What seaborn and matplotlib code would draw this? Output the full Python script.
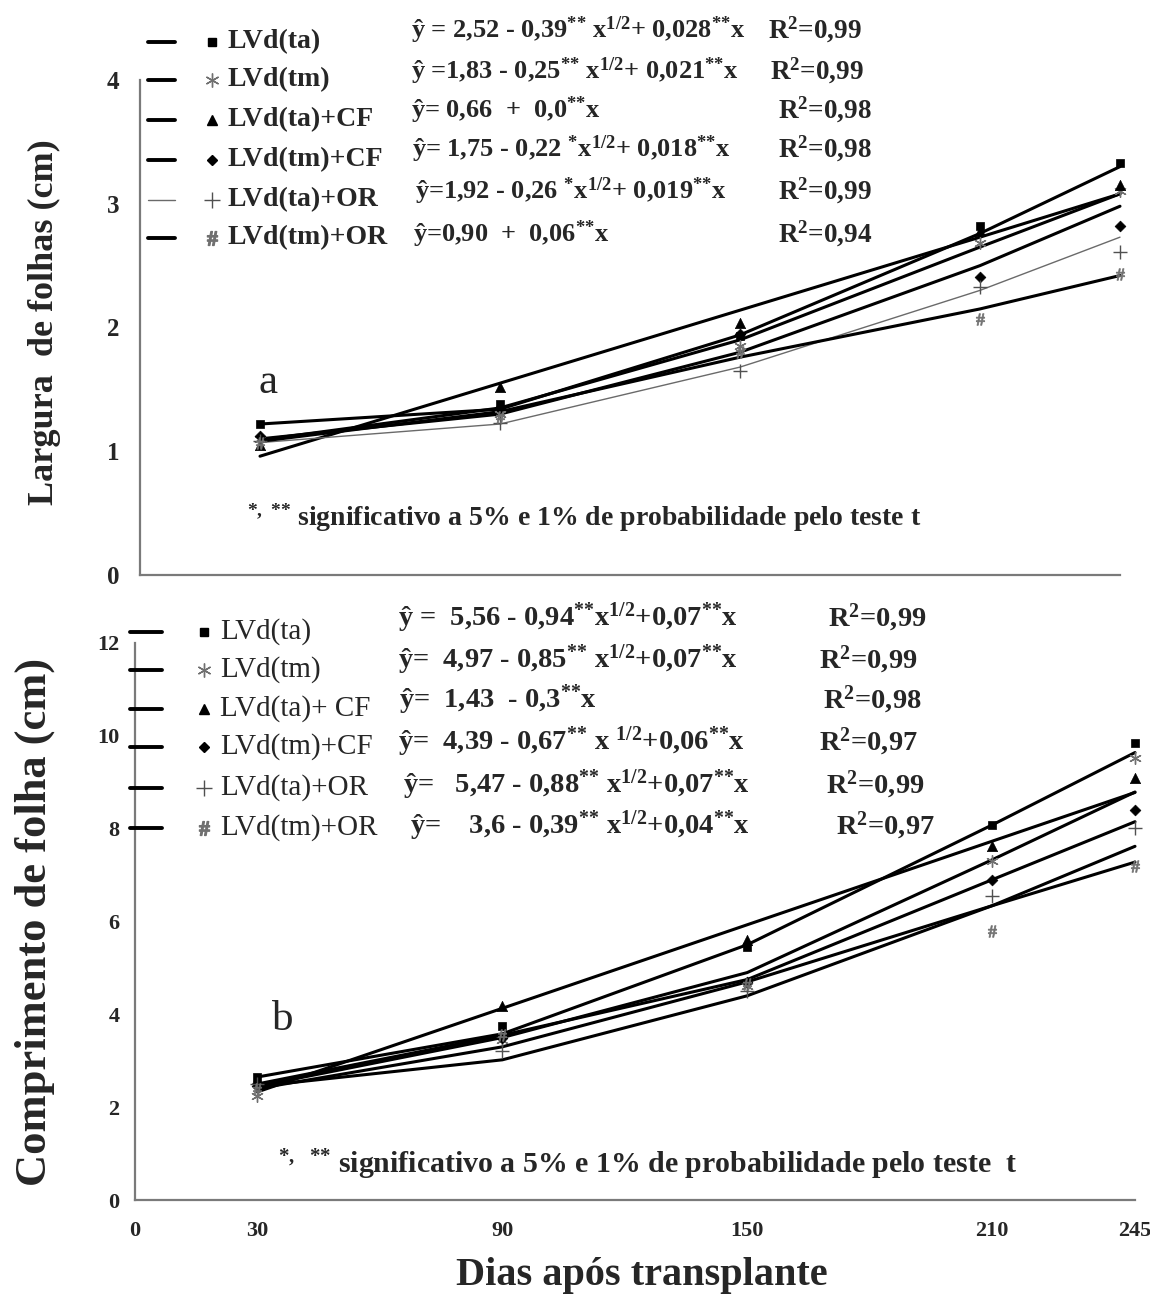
import matplotlib
matplotlib.use("Agg")
import matplotlib.pyplot as plt
import seaborn as sns
import pandas as pd
from matplotlib.lines import Line2D

# ---------------- data ----------------
days = [30, 90, 150, 210, 245]
x_ticks = [0, 30, 90, 150, 210, 245]
series_a = ["LVd(ta)", "LVd(tm)", "LVd(ta)+CF", "LVd(tm)+CF", "LVd(ta)+OR", "LVd(tm)+OR"]
series_b = ["LVd(ta)", "LVd(tm)", "LVd(ta)+ CF", "LVd(tm)+CF", "LVd(ta)+OR", "LVd(tm)+OR"]

# (a) Largura de folhas - observed
larg_obs_ta = [1.22, 1.38, 1.93, 2.82, 3.33]
larg_obs_tm = [1.10, 1.30, 1.85, 2.68, 3.10]
larg_obs_taCF = [1.05, 1.52, 2.04, 2.78, 3.15]
larg_obs_tmCF = [1.12, 1.35, 1.95, 2.41, 2.82]
larg_obs_taOR = [1.08, 1.23, 1.65, 2.33, 2.61]
larg_obs_tmOR = [1.07, 1.28, 1.80, 2.07, 2.43]
# (a) Largura de folhas - fitted
larg_fit_ta = [1.22, 1.34, 1.94, 2.76, 3.30]
larg_fit_tm = [1.09, 1.35, 1.90, 2.65, 3.08]
larg_fit_taCF = [0.96, 1.55, 2.14, 2.73, 3.08]
larg_fit_tmCF = [1.10, 1.30, 1.80, 2.50, 2.98]
larg_fit_taOR = [1.07, 1.22, 1.68, 2.30, 2.73]
larg_fit_tmOR = [1.08, 1.32, 1.76, 2.15, 2.42]

# (b) Comprimento de folha - observed
comp_obs_ta = [2.65, 3.75, 5.45, 8.08, 9.85]
comp_obs_tm = [2.25, 3.45, 4.60, 7.30, 9.53]
comp_obs_taCF = [2.60, 4.18, 5.60, 7.62, 9.10]
comp_obs_tmCF = [2.45, 3.50, 4.70, 6.90, 8.40]
comp_obs_taOR = [2.50, 3.20, 4.50, 6.56, 8.02]
comp_obs_tmOR = [2.40, 3.55, 4.65, 5.79, 7.20]
# (b) Comprimento de folha - fitted
comp_fit_ta = [2.65, 3.58, 5.50, 8.08, 9.64]
comp_fit_tm = [2.45, 3.50, 4.90, 7.33, 8.79]
comp_fit_taCF = [2.33, 4.13, 5.93, 7.73, 8.78]
comp_fit_tmCF = [2.50, 3.55, 4.75, 6.90, 8.15]
comp_fit_taOR = [2.40, 3.30, 4.70, 6.34, 7.62]
comp_fit_tmOR = [2.45, 3.02, 4.40, 6.34, 7.28]

S2 = "$^{{*}{*}}$"
S1 = "$^{*}$"
HALF = "$^{1/2}$"
eq_a = [
    "ŷ = 2,52 - 0,39" + S2 + " x" + HALF + "+ 0,028" + S2 + "x",
    "ŷ =1,83 - 0,25" + S2 + " x" + HALF + "+ 0,021" + S2 + "x",
    "ŷ= 0,66  +  0,0" + S2 + "x",
    "ŷ= 1,75 - 0,22 " + S1 + "x" + HALF + "+ 0,018" + S2 + "x",
    "ŷ=1,92 - 0,26 " + S1 + "x" + HALF + "+ 0,019" + S2 + "x",
    "ŷ=0,90  +  0,06" + S2 + "x",
]
r2_a = ["0,99", "0,99", "0,98", "0,98", "0,99", "0,94"]
eq_b = [
    "ŷ =  5,56 - 0,94" + S2 + "x" + HALF + "+0,07" + S2 + "x",
    "ŷ=  4,97 - 0,85" + S2 + " x" + HALF + "+0,07" + S2 + "x",
    "ŷ=  1,43  - 0,3" + S2 + "x",
    "ŷ=  4,39 - 0,67" + S2 + " x " + HALF + "+0,06" + S2 + "x",
    "ŷ=   5,47 - 0,88" + S2 + " x" + HALF + "+0,07" + S2 + "x",
    "ŷ=    3,6 - 0,39" + S2 + " x" + HALF + "+0,04" + S2 + "x",
]
r2_b = ["0,99", "0,99", "0,98", "0,97", "0,99", "0,97"]

larg_obs = [larg_obs_ta, larg_obs_tm, larg_obs_taCF, larg_obs_tmCF, larg_obs_taOR, larg_obs_tmOR]
larg_fit = [larg_fit_ta, larg_fit_tm, larg_fit_taCF, larg_fit_tmCF, larg_fit_taOR, larg_fit_tmOR]
comp_obs = [comp_obs_ta, comp_obs_tm, comp_obs_taCF, comp_obs_tmCF, comp_obs_taOR, comp_obs_tmOR]
comp_fit = [comp_fit_ta, comp_fit_tm, comp_fit_taCF, comp_fit_tmCF, comp_fit_taOR, comp_fit_tmOR]

# ---------------- style ----------------
sns.set_style("white")
SERIF = ["Liberation Serif", "DejaVu Serif"]
plt.rcParams["font.family"] = SERIF
plt.rcParams["mathtext.fontset"] = "custom"
plt.rcParams["mathtext.rm"] = "Liberation Serif:bold"
plt.rcParams["mathtext.bf"] = "Liberation Serif:bold"
plt.rcParams["mathtext.it"] = "Liberation Serif:bold"
plt.rcParams["mathtext.default"] = "rm"

markers = ["s", (6, 2, 0), "^", "D", "+", r"$\#$"]
mcolors = ["black", "#707070", "black", "black", "#505050", "#707070"]
msizes = [40, 70, 55, 30, 90, 70]
lcolors_a = ["black", "black", "black", "black", "#6a6a6a", "black"]
lwidths_a = [2.2, 2.2, 2.2, 2.2, 1.0, 2.2]
lcolors_b = ["black"] * 6
lwidths_b = [2.2] * 6

W, H = 1150, 1302
fig = plt.figure(figsize=(W / 100, H / 100), dpi=100)
fig.patch.set_facecolor("white")


def fx(px):
    return px / W


def fy(py):
    return 1 - py / H


ax_a = fig.add_axes([fx(140), fy(575), fx(1120) - fx(140), fy(80) - fy(575)])
ax_b = fig.add_axes([fx(135), fy(1200), fx(1135) - fx(135), fy(643) - fy(1200)])


def draw_panel(ax, names, obs, fit, lcolors, lwidths):
    rows = []
    for name, o, f in zip(names, obs, fit):
        for d, ov, fv in zip(days, o, f):
            rows.append({"serie": name, "dia": d, "obs": ov, "fit": fv})
    df = pd.DataFrame(rows)
    for i, name in enumerate(names):
        sub = df[df["serie"] == name]
        sns.lineplot(data=sub, x="dia", y="fit", ax=ax, color=lcolors[i],
                     lw=lwidths[i], sort=True, legend=False, clip_on=False)
    for i, name in enumerate(names):
        sub = df[df["serie"] == name]
        kw = dict(color=mcolors[i], s=msizes[i], marker=markers[i], legend=False,
                  ax=ax, clip_on=False, zorder=5)
        if markers[i] in ("+", (6, 2, 0)):
            kw["linewidth"] = 1.0
        else:
            kw["edgecolor"] = mcolors[i]
            kw["linewidth"] = 0.5
        sns.scatterplot(data=sub, x="dia", y="obs", **kw)


draw_panel(ax_a, series_a, larg_obs, larg_fit, lcolors_a, lwidths_a)
draw_panel(ax_b, series_b, comp_obs, comp_fit, lcolors_b, lwidths_b)

for ax in (ax_a, ax_b):
    ax.set_xlim(0, 245)
    sns.despine(ax=ax)
    for sp in ("left", "bottom"):
        ax.spines[sp].set_color("#7a7a7a")
        ax.spines[sp].set_linewidth(1.6)
    ax.set_xlabel("")
    ax.set_ylabel("")
    ax.tick_params(length=0)

ax_a.set_ylim(0, 4)
ax_a.set_yticks([0, 1, 2, 3, 4])
ax_a.set_yticklabels(["0", "1", "2", "3", "4"], fontsize=18, fontweight="bold")
ax_a.tick_params(axis="y", pad=15)
ax_a.set_xticks([])

ax_b.set_ylim(0, 12)
ax_b.set_yticks([0, 2, 4, 6, 8, 10, 12])
ax_b.set_yticklabels([str(v) for v in [0, 2, 4, 6, 8, 10, 12]], fontsize=16, fontweight="bold")
ax_b.tick_params(axis="y", pad=11)
ax_b.set_xticks(x_ticks)
ax_b.set_xticklabels([str(v) for v in x_ticks], fontsize=16, fontweight="bold")
ax_b.tick_params(axis="x", pad=15)

# axis titles
fig.text(fx(44), fy(322), "Largura  de folhas (cm)", rotation=90, ha="center", va="center",
         fontsize=26, fontweight="bold")
fig.text(fx(35), fy(922), "Comprimento de folha (cm)", rotation=90, ha="center", va="center",
         fontsize=32, fontweight="bold")
fig.text(fx(642), fy(1275), "Dias após transplante", ha="center", va="center",
         fontsize=29, fontweight="bold")

# panel letters
fig.text(fx(268), fy(383), "a", ha="center", va="center", fontsize=31)
fig.text(fx(283), fy(1020), "b", ha="center", va="center", fontsize=31)


def legend_rows(ys, x_line, x_mark, x_lab, labels, lcolors, lwidths, fs, weight):
    for i, (yy, lab) in enumerate(zip(ys, labels)):
        fig.add_artist(Line2D([fx(x_line[0]), fx(x_line[1])], [fy(yy), fy(yy)],
                              transform=fig.transFigure, color=lcolors[i],
                              lw=lwidths[i] + 0.6 if lwidths[i] > 1.5 else lwidths[i]))
        ms = {"s": 6, "^": 7, "D": 5, "+": 11}.get(markers[i] if isinstance(markers[i], str) else "", 10)
        fig.add_artist(Line2D([fx(x_mark)], [fy(yy)], transform=fig.transFigure,
                              marker=markers[i], color=mcolors[i], ms=ms, mew=1.0, lw=0))
        fig.text(fx(x_lab), fy(yy), lab, ha="left", va="center", fontsize=fs, fontweight=weight)


legend_rows([42, 80, 120, 160, 200, 238], (148, 175), 212, 228, series_a,
            lcolors_a, lwidths_a, 20, "bold")
legend_rows([632, 670, 709, 747, 788, 828], (130, 162), 204, 220, series_b,
            lcolors_b, lwidths_b, 21, "normal")

# equations panel a
eq_a_y = [30, 71, 110, 149, 191, 234]
eq_a_x = [411, 411, 411, 412, 415, 413]
r2_a_x = [768, 770, 778, 778, 778, 778]
for s, r, xx, rx, yy in zip(eq_a, r2_a, eq_a_x, r2_a_x, eq_a_y):
    fig.text(fx(xx), fy(yy), s, ha="left", va="center", fontsize=19, fontweight="bold")
    fig.text(fx(rx), fy(yy), "R$^{2}$=" + r, ha="left", va="center", fontsize=19.5, fontweight="bold")

# equations panel b
eq_b_y = [618, 660, 700, 742, 785, 826]
eq_b_x = [398, 398, 399, 398, 403, 410]
r2_b_x = [828, 819, 823, 819, 826, 836]
for s, r, xx, rx, yy in zip(eq_b, r2_b, eq_b_x, r2_b_x, eq_b_y):
    fig.text(fx(xx), fy(yy), s, ha="left", va="center", fontsize=20.5, fontweight="bold")
    fig.text(fx(rx), fy(yy), "R$^{2}$=" + r, ha="left", va="center", fontsize=20.5, fontweight="bold")

# footnotes
fig.text(fx(247), fy(518), "$^{*,\\ {*}{*}}$ significativo a 5% e 1% de probabilidade pelo teste t",
         ha="left", va="center", fontsize=20, fontweight="bold")
fig.text(fx(278), fy(1165), "$^{*,\\ \\ {*}{*}}$ significativo a 5% e 1% de probabilidade pelo teste  t",
         ha="left", va="center", fontsize=21.5, fontweight="bold")

fig.savefig("out.png", dpi=100, facecolor="white")
